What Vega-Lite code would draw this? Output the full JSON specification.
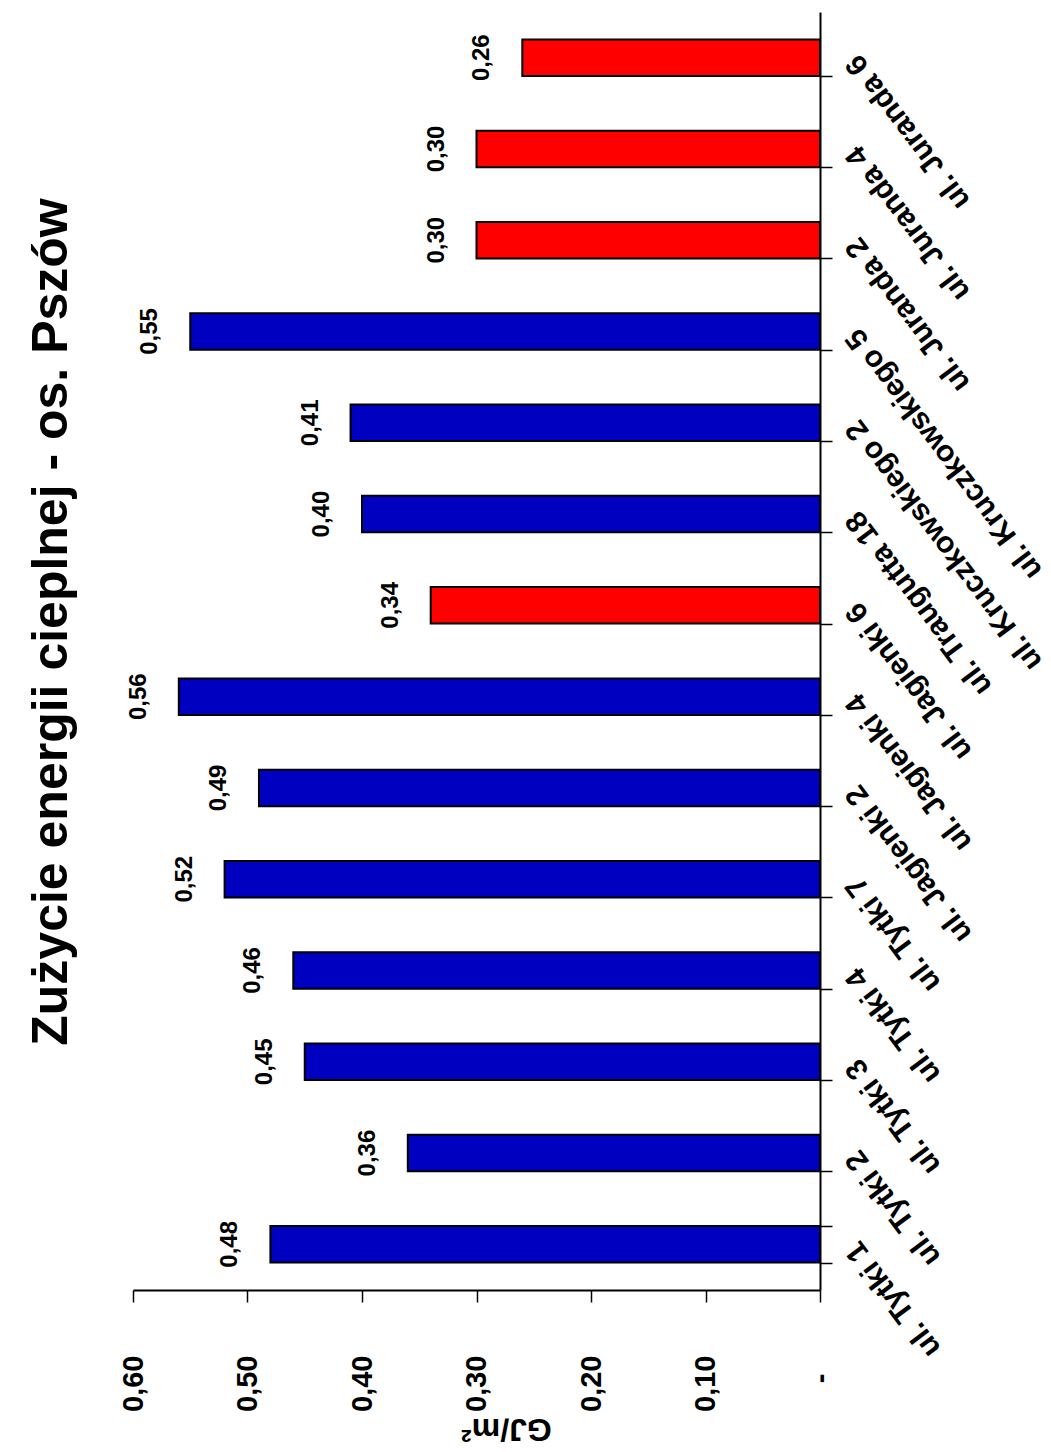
{
  "$schema": "https://vega.github.io/schema/vega-lite/v6.json",
  "width": 687,
  "height": 1278,
  "autosize": "none",
  "padding": {"left": 133, "top": 12, "right": 231, "bottom": 162},
  "background": "white",
  "config": {
    "view": {"stroke": null},
    "font": "Liberation Sans, Arial, sans-serif",
    "locale": {
      "number": {"decimal": ",", "thousands": " ", "grouping": [3], "currency": ["", " zł"]}
    }
  },
  "title": {
    "text": "Zużycie energii cieplnej - os. Pszów",
    "orient": "left",
    "anchor": "middle",
    "fontSize": 50,
    "fontWeight": "bold",
    "color": "black",
    "offset": 42,
    "dx": 29
  },
  "data": {
    "values": [
      {"adres": "ul. Tytki 1", "wartosc": 0.48, "grupa": "A"},
      {"adres": "ul. Tytki 2", "wartosc": 0.36, "grupa": "A"},
      {"adres": "ul. Tytki 3", "wartosc": 0.45, "grupa": "A"},
      {"adres": "ul. Tytki 4", "wartosc": 0.46, "grupa": "A"},
      {"adres": "ul. Tytki 7", "wartosc": 0.52, "grupa": "A"},
      {"adres": "ul. Jagienki 2", "wartosc": 0.49, "grupa": "A"},
      {"adres": "ul. Jagienki 4", "wartosc": 0.56, "grupa": "A"},
      {"adres": "ul. Jagienki 6", "wartosc": 0.34, "grupa": "B"},
      {"adres": "ul. Traugutta 18", "wartosc": 0.40, "grupa": "A"},
      {"adres": "ul. Kruczkowskiego 2", "wartosc": 0.41, "grupa": "A"},
      {"adres": "ul. Kruczkowskiego 5", "wartosc": 0.55, "grupa": "A"},
      {"adres": "ul. Juranda 2", "wartosc": 0.30, "grupa": "B"},
      {"adres": "ul. Juranda 4", "wartosc": 0.30, "grupa": "B"},
      {"adres": "ul. Juranda 6", "wartosc": 0.26, "grupa": "B"}
    ]
  },
  "encoding": {
    "y": {
      "field": "adres",
      "type": "nominal",
      "sort": null,
      "scale": {"reverse": true, "paddingInner": 0.6, "paddingOuter": 0.3},
      "axis": {
        "orient": "right",
        "title": null,
        "domainColor": "black",
        "domainWidth": 2,
        "tickColor": "black",
        "tickWidth": 1.5,
        "tickSize": 12,
        "tickBand": "extent",
        "labelAngle": -127,
        "labelAlign": "right",
        "labelBaseline": "middle",
        "labelPadding": 20,
        "labelFontSize": 30,
        "labelFontWeight": "bold",
        "labelColor": "black",
        "labelLimit": 600,
        "labelOverlap": false
      }
    },
    "x": {
      "field": "wartosc",
      "type": "quantitative",
      "scale": {"domain": [0, 0.6], "reverse": true, "nice": false, "zero": true},
      "axis": {
        "orient": "bottom",
        "values": [0, 0.1, 0.2, 0.3, 0.4, 0.5, 0.6],
        "format": ".2f",
        "labelExpr": "datum.value == 0 ? '-' : datum.label",
        "grid": false,
        "domainColor": "black",
        "domainWidth": 2,
        "tickColor": "black",
        "tickWidth": 1.5,
        "tickSize": 12,
        "labelAngle": 270,
        "labelAlign": "right",
        "labelBaseline": "middle",
        "labelPadding": {"condition": {"test": "datum.value == 0", "value": 71}, "value": 53},
        "labelFlush": false,
        "labelOverlap": false,
        "labelFontSize": 29,
        "labelFontWeight": "bold",
        "labelColor": "black",
        "title": "GJ/m²",
        "titleAngle": 180,
        "titleFontSize": 32,
        "titleFontWeight": "bold",
        "titleColor": "black",
        "titleAlign": "center",
        "titleBaseline": "middle",
        "titleX": 373,
        "titleY": 138
      }
    }
  },
  "layer": [
    {
      "mark": {"type": "bar", "stroke": "black", "strokeWidth": 2},
      "encoding": {
        "color": {
          "field": "grupa",
          "type": "nominal",
          "scale": {"domain": ["A", "B"], "range": ["#0000C0", "#FF0000"]},
          "legend": null
        }
      }
    },
    {
      "mark": {
        "type": "text",
        "angle": 270,
        "align": "center",
        "baseline": "alphabetic",
        "dy": -33,
        "fontSize": 24,
        "fontWeight": "bold",
        "color": "black"
      },
      "encoding": {
        "text": {"field": "wartosc", "type": "quantitative", "format": ".2f"}
      }
    }
  ]
}
